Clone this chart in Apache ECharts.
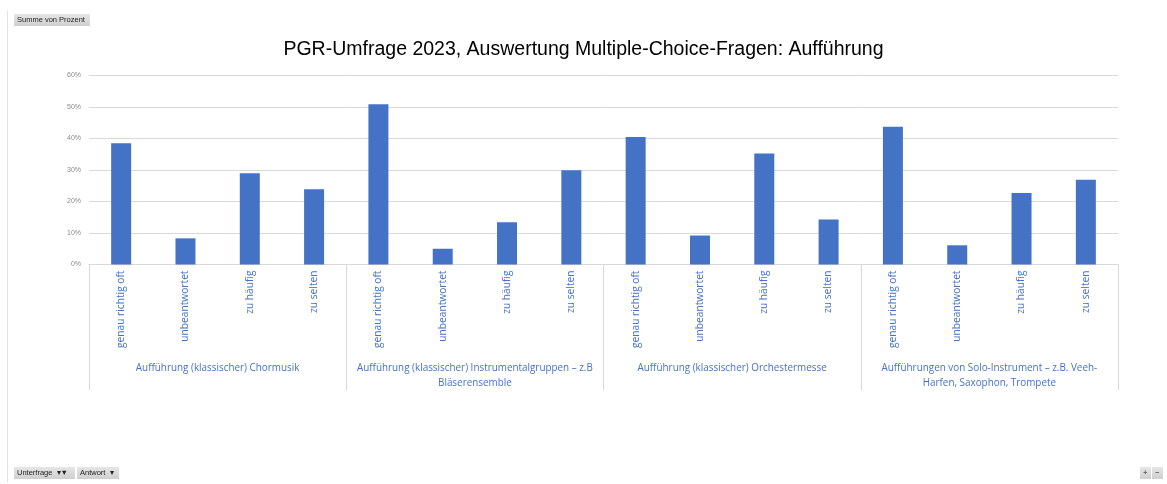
<!DOCTYPE html>
<html>
<head>
<meta charset="utf-8">
<script src="https://cdn.jsdelivr.net/npm/echarts@6/dist/echarts.min.js"></script>
<style>
html,body{margin:0;padding:0;background:#fff}
#main{width:1167px;height:484px}
</style>
</head>
<body>
<div id="main"></div>
<script>
// Antwort-Kategorien (innerhalb jeder Unterfrage)
var antworten = ['genau richtig oft', 'unbeantwortet', 'zu häufig', 'zu selten']
// Unterfragen (Gruppen)
var unterfragen = [
	'Aufführung (klassischer) Chormusik',
	'Aufführung (klassischer) Instrumentalgruppen – z.B\nBläserensemble',
	'Aufführung (klassischer) Orchestermesse',
	'Aufführungen von Solo-Instrument – z.B. Veeh-\nHarfen, Saxophon, Trompete'
]
// Prozentwerte je Unterfrage, Reihenfolge wie antworten
var chormusik = [38.5, 8.3, 29.0, 23.9]
var instrumentalgruppen = [50.9, 5.0, 13.4, 29.9]
var orchestermesse = [40.5, 9.2, 35.2, 14.3]
var soloInstrument = [43.7, 6.1, 22.7, 26.9]
var yTicks = [0, 10, 20, 30, 40, 50, 60]

var groups = [chormusik, instrumentalgruppen, orchestermesse, soloInstrument]
var x_data = []
var y_data = []
for (let i = 0; i < groups.length; i++) {
	for (let j = 0; j < antworten.length; j++) {
		x_data.push(antworten[j])
		y_data.push(groups[i][j])
	}
}

var labelColor = '#4472C4'
var chart = echarts.init(document.getElementById('main'))

function pivotButton(x, y, w, txt) {
	return {
		type: 'group', left: x, top: y,
		children: [
			{type: 'rect', shape: {x: 0, y: 0, width: w, height: 12},
				style: {fill: new echarts.graphic.LinearGradient(0, 0, 0, 1, [{offset: 0, color: '#e6e6e6'}, {offset: 1, color: '#cfcfcf'}])}},
			{type: 'text', left: 3, top: 2, style: {text: txt, font: '7.5px "Liberation Sans"', fill: '#222'}}
		]
	}
}

var option = {
	animation: false,
	title: {
		text: 'PGR-Umfrage 2023, Auswertung Multiple-Choice-Fragen: Aufführung',
		left: 'center',
		top: 35,
		textStyle: {fontFamily: 'Liberation Sans', fontSize: 19.5, fontWeight: 'normal', color: '#000'}
	},
	grid: {left: 89, right: 49, top: 75.5, bottom: 219.5},
	xAxis: [
		{
			type: 'category',
			data: x_data,
			position: 'bottom',
			axisLine: {lineStyle: {color: '#d9d9d9'}},
			axisTick: {show: false},
			axisLabel: {
				interval: 0, rotate: 90, margin: 6,
				color: labelColor, fontFamily: 'Open Sans', fontSize: 10.2
			}
		},
		{
			type: 'category',
			data: unterfragen,
			position: 'bottom',
			axisLine: {show: false},
			axisTick: {show: true, inside: false, length: 126, lineStyle: {color: '#d9d9d9'}},
			axisLabel: {
				interval: 0, margin: 96, lineHeight: 15,
				color: labelColor, fontFamily: 'Open Sans', fontSize: 9.9
			}
		}
	],
	yAxis: {
		type: 'value',
		min: 0, max: 60, interval: 10,
		axisLine: {show: false},
		axisTick: {show: false},
		splitLine: {lineStyle: {color: '#d9d9d9'}},
		axisLabel: {
			margin: 8, color: '#8a8a8a', fontFamily: 'Liberation Sans', fontSize: 7,
			formatter: function (v) { return yTicks.indexOf(v) >= 0 ? v + '%' : '' }
		}
	},
	series: [{
		name: 'Summe von Prozent',
		type: 'bar',
		xAxisIndex: 0,
		data: y_data,
		barWidth: 20,
		itemStyle: {color: '#4472C4'}
	}],
	graphic: [
		{type: 'line', shape: {x1: 7.5, y1: 10, x2: 7.5, y2: 482}, style: {stroke: '#e2e2e2', lineWidth: 1}},
		pivotButton(14, 14, 76, 'Summe von Prozent'),
		pivotButton(14, 467, 61, 'Unterfrage  ▾▼'),
		pivotButton(77, 467, 42, 'Antwort  ▾'),
		pivotButton(1140, 467, 11, '+'),
		pivotButton(1152, 467, 11, '−')
	]
}
chart.setOption(option)
</script>
</body>
</html>
